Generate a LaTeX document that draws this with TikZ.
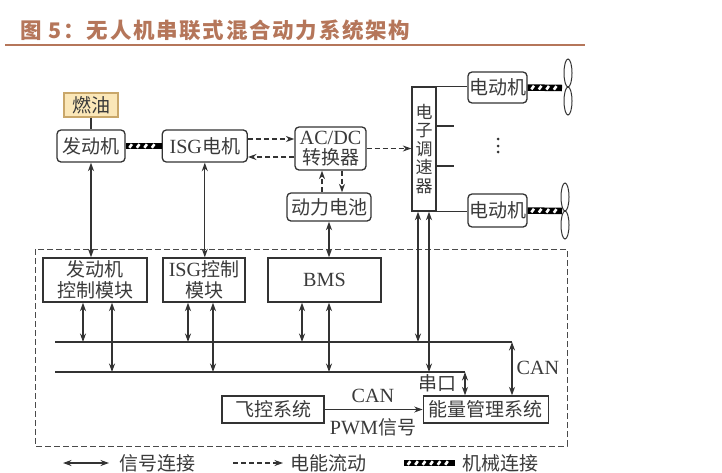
\documentclass[tikz,border=0pt]{standalone}
\usepackage{fontspec}
\usepackage{xcolor}
\usetikzlibrary{arrows.meta,positioning,decorations.markings,shapes.geometric}
\setmainfont[Scale=1.06]{Liberation Serif}
\newfontfamily\cjk{Noto Sans CJK SC}
\newfontfamily\titlefont[LetterSpace=8]{Noto Sans CJK SC}
\definecolor{linegray}{HTML}{333333}
\definecolor{framegray}{HTML}{4A4A4A}
\definecolor{textgray}{HTML}{3A3A3A}
\definecolor{fuelfill}{HTML}{FBE7B8}
\definecolor{fueledge}{HTML}{C9A76A}
\definecolor{titlebrown}{HTML}{B5765A}

\begin{document}
\begin{tikzpicture}[
  x=1pt, y=-1pt,
  >={Stealth[length=8.5pt,width=6pt]},
  line width=1.3pt,
  unit/.style={rectangle, draw=linegray, rounded corners=4pt, align=center, text=textgray, inner sep=0pt, font=\fontsize{19}{20.5}\selectfont},
  module/.style={rectangle, draw=linegray, align=center, text=textgray, inner sep=0pt, minimum height=44pt, font=\fontsize{19}{21}\selectfont},
  signal/.style={<->, draw=linegray, line width=1.3pt},
  power/.style={->, draw=linegray, line width=1.3pt, dash pattern=on 5pt off 3pt},
  wire/.style={draw=linegray, line width=1.3pt},
  bus/.style={draw=linegray, line width=1.6pt},
  mech/.style={draw=black, line width=6.5pt, postaction={decorate}, decoration={markings, mark=between positions 5pt and -3pt step 7.5pt with {\draw[white, line width=2.6pt] (-1.3pt,-1.8pt) -- (1.3pt,1.8pt);}}},
  blade/.style={ellipse, draw=linegray, line width=1pt, minimum width=8pt, minimum height=28pt, inner sep=0pt},
  label/.style={text=textgray, inner sep=0pt, font=\fontsize{19}{21}\selectfont}
]
  \useasboundingbox (0,0) rectangle (722,472);

  \node[anchor=west, inner sep=0pt, text=titlebrown, font=\titlefont\bfseries\fontsize{21.5}{23}\selectfont] (caption) at (20,30) {图 5：无人机串联式混合动力系统架构};
  \coordinate (rulea) at (5,45);
  \coordinate (ruleb) at (585,45);
  \draw[draw=titlebrown, line width=2.6pt] (rulea) -- (ruleb);

  \node[unit, sharp corners, fill=fuelfill, draw=fueledge, minimum width=54pt, minimum height=24pt] (fuel) at (91,105) {\cjk 燃油};
  \node[unit, minimum width=68pt, minimum height=32pt] (engine) at (91,146) {\cjk 发动机};
  \node[unit, right=36pt of engine, minimum width=85pt, minimum height=32pt] (isg) {ISG{\cjk 电机}};
  \node[unit, minimum width=71pt, minimum height=43pt] (acdc) at (330.5,148.5) {AC/DC\\[-1pt]{\cjk 转换器}};
  \node[unit, minimum width=84pt, minimum height=28pt] (battery) at (329,207) {\cjk 动力电池};
  \node[rectangle, draw=linegray, align=center, text=textgray, inner sep=0pt, minimum width=24pt, minimum height=124pt, font=\cjk\fontsize{17}{18.5}\selectfont] (esc) at (424,149) {电\\子\\调\\速\\器};
  \node[unit, minimum width=59pt, minimum height=31pt] (motora) at (497.5,87.5) {\cjk 电动机};
  \node[unit, minimum width=59pt, minimum height=33pt] (motorb) at (497.5,210.5) {\cjk 电动机};
  \foreach \doty in {139,146,152}
    \fill[linegray] (498,\doty) circle (1.5pt);

  \node[blade] (bladeaa) at (568,73) {};
  \node[blade] (bladeab) at (568,101) {};
  \node[blade] (bladeba) at (565,197) {};
  \node[blade] (bladebb) at (565,225) {};
  \coordinate (huba) at (562,88);
  \coordinate (hubb) at (562,211);

  \node[module, minimum width=104pt] (enginectl) at (95,280) {\cjk 发动机\\\cjk 控制模块};
  \node[module, minimum width=82pt] (isgctl) at (204,280) {ISG{\cjk 控制}\\\cjk 模块};
  \node[module, minimum width=113pt] (bms) at (324.5,280) {BMS};
  \node[module, minimum width=102pt, minimum height=27pt] (flight) at (273,409.5) {\cjk 飞控系统};
  \node[module, right=98pt of flight, minimum width=125pt, minimum height=27pt] (ems) {\cjk 能量管理系统};

  \coordinate (frame) at (35,249);
  \coordinate (frameend) at (567,446);
  \draw[draw=framegray, line width=1pt, dash pattern=on 6pt off 3pt] (frame) rectangle (frameend);

  \coordinate (busa) at (55,342);
  \coordinate (busaend) at (512,342);
  \coordinate (busb) at (55,372);
  \coordinate (busbend) at (465,372);
  \draw[bus] (busa) -- (busaend);
  \draw[bus] (busb) -- (busbend);

  \draw[wire] (fuel) -- (engine);
  \draw[mech] (engine) -- (isg);
  \draw[signal] (engine.south) -- (engine.south |- enginectl.north);
  \draw[signal] (isg.south) -- (isg.south |- isgctl.north);
  \draw[signal] (battery.south) -- (battery.south |- bms.north);

  \draw[power] (isg.east |- 0,139) -- (acdc.west |- 0,139);
  \draw[power] (acdc.west |- 0,157) -- (isg.east |- 0,157);
  \draw[power] (acdc.east) -- (esc.west |- acdc.east);
  \draw[power] (battery.north -| 322,0) -- (acdc.south -| 322,0);
  \draw[power] (acdc.south -| 342,0) -- (battery.north -| 342,0);

  \draw[wire] (esc.north east) -- (motora.west |- esc.north);
  \draw[wire] (esc.south east) -- (motorb.west |- esc.south);
  \draw[wire] (esc.east |- 0,126) -- ++(17,0);
  \draw[wire] (esc.east |- 0,166) -- ++(17,0);
  \draw[mech] (motora.east) -- (huba);
  \draw[mech] (motorb.east) -- (hubb);

  \foreach \tapx/\bussrc/\busy in {83/enginectl/342, 112/enginectl/372, 188/isgctl/342, 213/isgctl/372, 302/bms/342, 329/bms/372, 418/esc/342, 429/esc/372}
    \draw[signal] (\tapx,0 |- \bussrc.south) -- (\tapx,\busy);

  \draw[signal] (busaend) -- (busaend |- ems.north);
  \draw[signal] (busbend) -- (busbend |- ems.north);
  \draw[->, draw=linegray] (flight) -- (ems);

  \node[label] (canems) at (538,368) {CAN};
  \node[label] (canflight) at (373,396) {CAN};
  \node[label] (pwm) at (373,427) {PWM{\cjk 信号}};
  \node[label] (serial) at (437,383) {\cjk 串口};

  \coordinate (legsiga) at (63,463);
  \coordinate (legsigb) at (109,463);
  \coordinate (legpowa) at (233,463);
  \coordinate (legpowb) at (283,463);
  \coordinate (legmecha) at (404,463);
  \coordinate (legmechb) at (455,463);
  \draw[signal] (legsiga) -- (legsigb);
  \draw[power] (legpowa) -- (legpowb);
  \draw[mech] (legmecha) -- (legmechb);
  \node[label] (legsig) at (157,463) {\cjk 信号连接};
  \node[label] (legpow) at (328,463) {\cjk 电能流动};
  \node[label] (legmech) at (500,463) {\cjk 机械连接};
\end{tikzpicture}
\end{document}
